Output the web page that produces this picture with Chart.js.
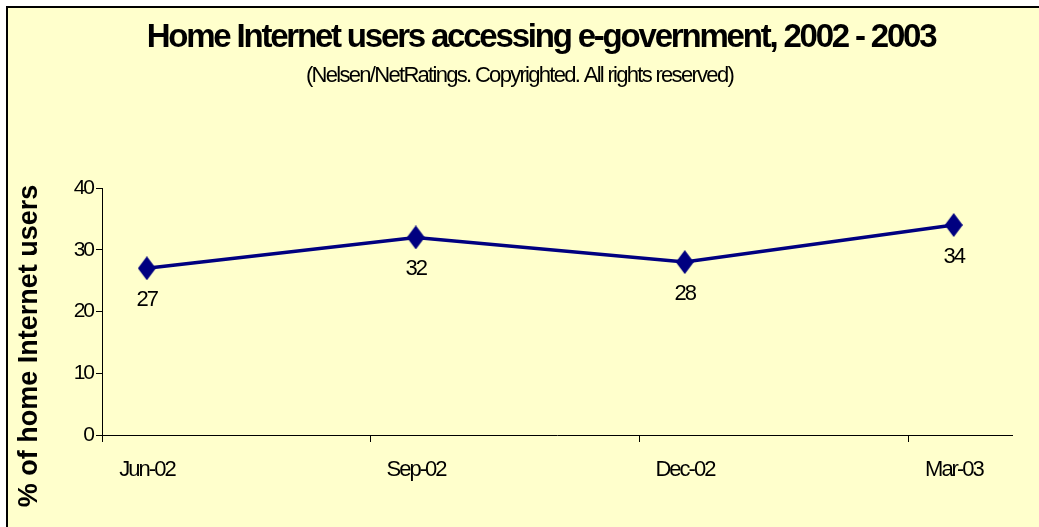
<!DOCTYPE html>
<html>
<head>
<meta charset="utf-8">
<script src="https://cdn.jsdelivr.net/npm/chart.js@4/dist/chart.umd.min.js"></script>
<style>
  html, body { margin: 0; padding: 0; background: #fff; }
  #wrap { width: 1039px; height: 527px; position: relative; }
</style>
</head>
<body>
<div id="wrap"><canvas id="chart"></canvas></div>
<script>
// data
const categories = ['Jun-02', 'Sep-02', 'Dec-02', 'Mar-03'];
const monthOffsets = [0, 3, 6, 9]; // months after Jun-02
const values = [27, 32, 28, 34];
const yTicks = [0, 10, 20, 30, 40];

const titleText = 'Home Internet users accessing e-government, 2002 - 2003';
const subtitleText = '(Nelsen/NetRatings. Copyrighted. All rights reserved)';
const yTitleText = '% of home Internet users';

const FONT = "'Liberation Sans', Arial, sans-serif";
const NAVY = '#000080';

// tall diamond marker like the Excel one
function makeDiamond(w, h) {
  const c = document.createElement('canvas');
  c.width = w;
  c.height = h;
  const g = c.getContext('2d');
  g.fillStyle = NAVY;
  g.beginPath();
  g.moveTo(w / 2, 0);
  g.lineTo(w, h / 2);
  g.lineTo(w / 2, h);
  g.lineTo(0, h / 2);
  g.closePath();
  g.fill();
  return c;
}
const diamond = makeDiamond(18, 24);

// yellow panel with the black frame on top/left
const panelBg = {
  id: 'panelBg',
  beforeDraw(chart) {
    const ctx = chart.ctx;
    ctx.save();
    ctx.fillStyle = '#ffffff';
    ctx.fillRect(0, 0, chart.width, chart.height);
    ctx.fillStyle = '#000000';
    ctx.fillRect(6, 6, chart.width - 6, 2);
    ctx.fillRect(6, 6, 2, chart.height - 6);
    ctx.fillStyle = '#ffffcc';
    ctx.fillRect(8, 8, chart.width - 8, chart.height - 8);
    ctx.restore();
    // the reference text is set tight, ticks pick this up
    ctx.letterSpacing = '-2px';
  }
};

// title + subtitle, drawn by hand so the tracking can be tightened
const headings = {
  id: 'headings',
  afterDraw(chart) {
    const ctx = chart.ctx;
    ctx.save();
    ctx.fillStyle = '#000';
    ctx.textAlign = 'center';
    ctx.textBaseline = 'middle';
    ctx.letterSpacing = '-2.2px';
    ctx.font = 'bold 33px ' + FONT;
    ctx.fillText(titleText, 541, 38);
    ctx.letterSpacing = '-1.7px';
    ctx.font = '22px ' + FONT;
    ctx.fillText(subtitleText, chart.width / 2, 76);
    ctx.restore();
  }
};

// value labels under each marker
const valueLabels = {
  id: 'valueLabels',
  afterDatasetsDraw(chart) {
    const ctx = chart.ctx;
    const meta = chart.getDatasetMeta(0);
    ctx.save();
    ctx.letterSpacing = '-2px';
    ctx.font = '22px ' + FONT;
    ctx.fillStyle = '#000';
    ctx.textAlign = 'center';
    ctx.textBaseline = 'middle';
    meta.data.forEach((pt, i) => {
      ctx.fillText(String(values[i]), pt.x, pt.y + 32);
    });
    ctx.restore();
  }
};

// rotated y-axis title
const yTitle = {
  id: 'yTitle',
  afterDraw(chart) {
    const ctx = chart.ctx;
    ctx.save();
    ctx.letterSpacing = '0px';
    ctx.translate(30, 346);
    ctx.rotate(-Math.PI / 2);
    ctx.font = 'bold 27px ' + FONT;
    ctx.fillStyle = '#000';
    ctx.textAlign = 'center';
    ctx.textBaseline = 'middle';
    ctx.fillText(yTitleText, 0, 0);
    ctx.restore();
  }
};

new Chart(document.getElementById('chart'), {
  type: 'scatter',
  data: {
    datasets: [{
      data: values.map((v, i) => ({ x: monthOffsets[i] + 0.5, y: v })),
      showLine: true,
      borderColor: NAVY,
      borderWidth: 3.5,
      backgroundColor: NAVY,
      pointStyle: diamond,
      pointRadius: 9,
      pointHoverRadius: 9
    }]
  },
  options: {
    responsive: true,
    maintainAspectRatio: false,
    animation: false,
    layout: { padding: { left: 0, right: 27, top: 188, bottom: 0 } },
    plugins: {
      legend: { display: false },
      tooltip: { enabled: false }
    },
    scales: {
      x: {
        type: 'linear',
        min: 0,
        max: 10.15,
        afterBuildTicks(scale) {
          scale.ticks = monthOffsets.map(v => ({ value: v }));
        },
        afterFit(scale) { scale.height = 92; },
        grid: { drawOnChartArea: false, color: '#000', tickLength: 7 },
        border: { color: '#000', width: 1 },
        ticks: {
          color: '#000',
          font: { family: FONT, size: 22 },
          padding: 15,
          labelOffset: 45,
          maxRotation: 0,
          autoSkip: false,
          callback: (v, i) => categories[i]
        }
      },
      y: {
        min: 0,
        max: 40,
        afterBuildTicks(scale) {
          scale.ticks = yTicks.map(v => ({ value: v }));
        },
        afterFit(scale) { scale.width = 102; },
        grid: { drawOnChartArea: false, color: '#000', tickLength: 6 },
        border: { color: '#000', width: 1 },
        ticks: {
          color: '#000',
          font: { family: FONT, size: 21 },
          padding: 3
        }
      }
    }
  },
  plugins: [panelBg, headings, valueLabels, yTitle]
});
</script>
</body>
</html>
